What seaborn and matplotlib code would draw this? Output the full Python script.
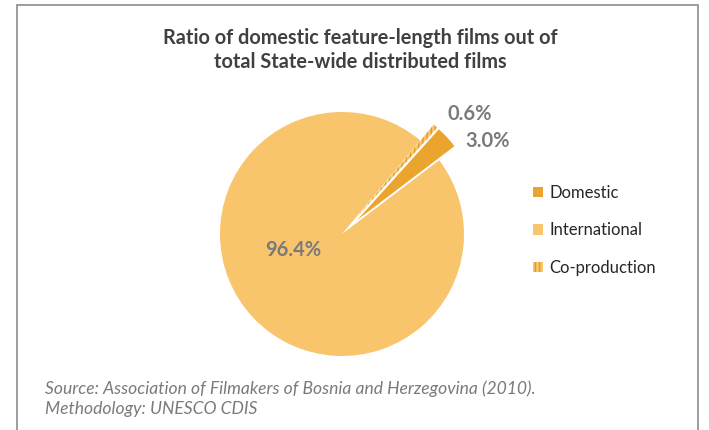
import numpy as np
import seaborn as sns
import matplotlib.pyplot as plt
import matplotlib as mpl
from matplotlib.patches import Patch, Rectangle

# >>>>> data
categories = ["Domestic", "International", "Co-production"]
shares = [3.0, 96.4, 0.6]
pct_labels = ["3.0%", "96.4%", "0.6%"]
# <<<<< data

sns.set_theme(style="white")
plt.rcParams['font.family'] = ['Lato', 'DejaVu Sans']

colors = ["#EBA42E", "#F8C56D", "#F8C56D"]

fig = plt.figure(figsize=(7.09, 4.30), dpi=100)

# frame around the chart
fig.patches.append(Rectangle((17 / 709, -0.1), 681 / 709, 1.1 - 5 / 430,
                             transform=fig.transFigure, fill=False,
                             edgecolor="#8c8c8c", linewidth=1.2))

R = 122.0
cx, cy = 342.0, 234.0
lim = 1.4
w = 2 * lim * R
ax = fig.add_axes([(cx - w / 2) / 709, (430 - cy - w / 2) / 430, w / 709, w / 430])

wedges, texts = ax.pie(shares, colors=colors, startangle=48, counterclock=False,
                       explode=[0.17, 0, 0.17], radius=1.0,
                       wedgeprops=dict(linewidth=0))
ax.set_xlim(-lim, lim)
ax.set_ylim(-lim, lim)
ax.set_aspect("equal")
ax.axis("off")

wedges[2].set_hatch("||||")
wedges[2].set_edgecolor("#E39A22")
wedges[2].set_linewidth(0)

# percentage labels
label_pos = [(1.19, 0.76), (-0.40, -0.13), (1.05, 0.98)]
for lab, (x, y) in zip(pct_labels, label_pos):
    ax.text(x, y, lab, ha="center", va="center", fontsize=14.5,
            fontweight="bold", color="#7a7a7a")

fig.text(0.508, 1 - 50 / 430, "Ratio of domestic feature-length films out of\ntotal State-wide distributed films",
         ha="center", va="center", fontsize=14.3, fontweight="bold",
         color="#404040", linespacing=1.2)

handles = [Patch(facecolor=colors[0], edgecolor="none"),
           Patch(facecolor=colors[1], edgecolor="none"),
           Patch(facecolor=colors[2], edgecolor="#E39A22", hatch="||||", linewidth=0)]
fig.legend(handles, categories, loc="upper left", bbox_to_anchor=(526 / 709, 1 - 178 / 430),
           frameon=False, fontsize=12, handlelength=0.6, handleheight=0.6,
           handletextpad=0.4, labelspacing=1.3, borderaxespad=0)

fig.text(45 / 709, 1 - 398.5 / 430, "Source: Association of Filmakers of Bosnia and Herzegovina (2010).\nMethodology: UNESCO CDIS",
         ha="left", va="center", fontsize=12.6, style="italic", color="#7a7a7a",
         linespacing=1.3)

fig.savefig("out.png", dpi=100)
